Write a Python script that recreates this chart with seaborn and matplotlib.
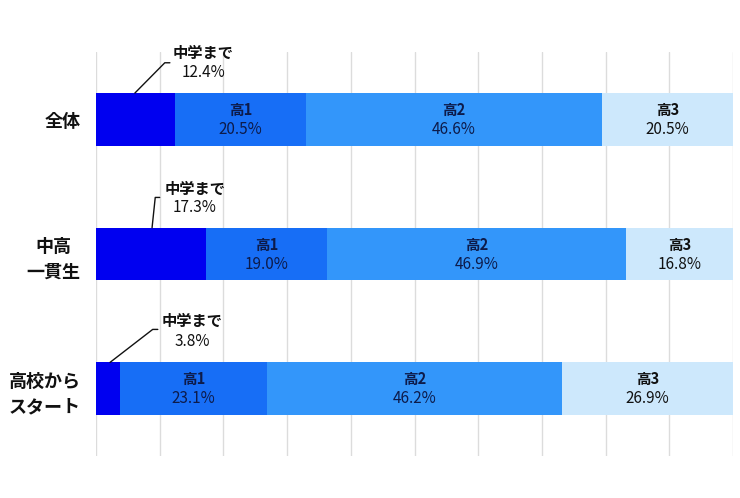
import numpy as np
import pandas as pd
import matplotlib
matplotlib.use("Agg")
import matplotlib.pyplot as plt
import seaborn as sns

sns.set_theme(style="white")
plt.rcParams['font.family'] = ['Noto Sans CJK JP', 'DejaVu Sans']

categories = ["全体", "中高\n一貫生", "高校から\nスタート"]
segments = ["中学まで", "高1", "高2", "高3"]
v_chugaku = [12.4, 17.3, 3.8]
v_ko1 = [20.5, 19.0, 23.1]
v_ko2 = [46.6, 46.9, 46.2]
v_ko3 = [20.5, 16.8, 26.9]

colors = ["#0000F0", "#176EF6", "#3396FA", "#CDE8FC"]
text_colors = ["#0d1b4a", "#0d1b4a", "#0d1b4a", "#111111"]

vals = np.array([v_chugaku, v_ko1, v_ko2, v_ko3])
cum = np.cumsum(vals, axis=0)

fig = plt.figure(figsize=(7.4, 4.98), dpi=100)
ax = fig.add_axes([96/740, 1-456/498, (733-96)/740, (456-52)/498])

for k in range(len(segments) - 1, -1, -1):
    df = pd.DataFrame({"cat": categories, "val": cum[k]})
    sns.barplot(data=df, x="val", y="cat", order=categories, orient="h",
                color=colors[k], saturation=1, width=0.39, errorbar=None,
                linewidth=0, edgecolor="none", ax=ax, zorder=2)

ax.set_xlim(0, 100)
ax.set_ylim(2.5, -0.5)
ax.set_xticks(np.arange(0, 101, 10))
ax.set_xticklabels([])
ax.grid(axis="x", color="#dcdcdc", linewidth=1.0, zorder=0)
ax.grid(axis="y", visible=False)
ax.set_axisbelow(True)
for s in ax.spines.values():
    s.set_visible(False)
ax.set_xlabel("")
ax.set_ylabel("")
ax.tick_params(axis="y", length=0, pad=11)
ax.tick_params(axis="x", length=0)
ax.set_yticks(range(len(categories)))
ax.set_yticklabels(categories, fontsize=13, fontweight="bold", color="#111111")
for t in ax.get_yticklabels():
    t.set_multialignment("center")
    t.set_linespacing(1.45)

# inner labels for 高1..高3
for i in range(len(categories)):
    for k in range(1, 4):
        xc = cum[k][i] - vals[k][i] / 2
        ax.text(xc, i - 0.07, segments[k], ha="center", va="center",
                fontsize=10.5, fontweight="bold", color=text_colors[k], zorder=5)
        ax.text(xc, i + 0.075, f"{vals[k][i]:.1f}%", ha="center", va="center",
                fontsize=11, color=text_colors[k], zorder=5)

# callouts for 中学まで
leaders = [
    [(6.1, -0.195), (10.8, -0.42), (11.6, -0.42)],
    [(8.8, 0.805), (9.3, 0.58), (10.0, 0.58)],
    [(2.2, 1.805), (8.9, 1.56), (9.7, 1.56)],
]
text_pos = [(16.8, -0.49, -0.345), (15.5, 0.515, 0.655), (15.1, 1.50, 1.65)]
for i in range(len(categories)):
    xs, ys = zip(*leaders[i])
    ax.plot(xs, ys, color="#111111", linewidth=1.0, zorder=6, clip_on=False)
    tx, ty1, ty2 = text_pos[i]
    ax.text(tx, ty1, segments[0], ha="center", va="center", fontsize=11,
            fontweight="bold", color="#111111", zorder=6)
    ax.text(tx, ty2, f"{v_chugaku[i]:.1f}%", ha="center", va="center",
            fontsize=11, color="#111111", zorder=6)

fig.savefig("out.png", dpi=100, facecolor="white")
